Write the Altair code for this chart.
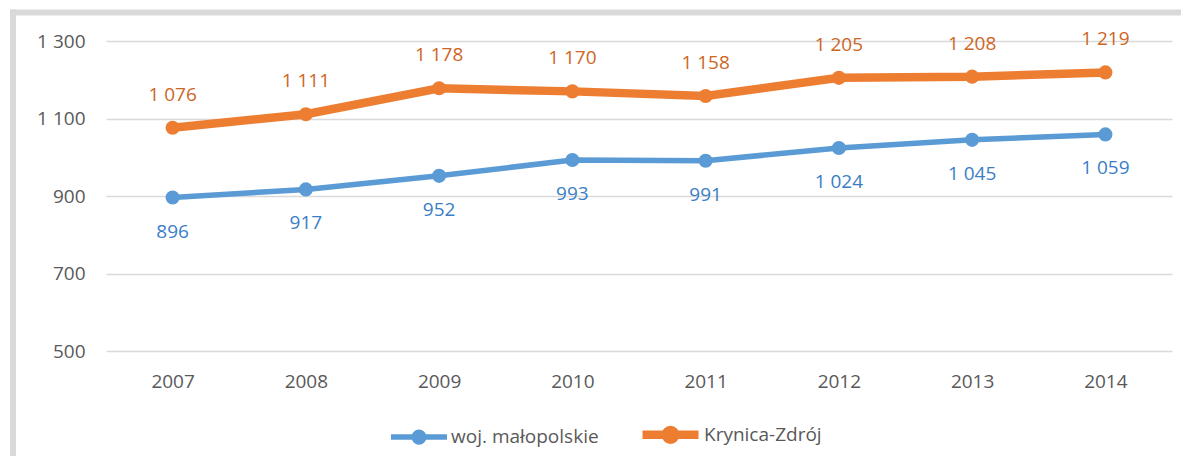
import altair as alt
import pandas as pd

years = ["2007", "2008", "2009", "2010", "2011", "2012", "2013", "2014"]
malopolskie = [896, 917, 952, 993, 991, 1024, 1045, 1059]
krynica = [1076, 1111, 1178, 1170, 1158, 1205, 1208, 1219]
series = ["woj. małopolskie", "Krynica-Zdrój"]
line_colors = ["#5B9BD5", "#ED7D31"]
label_colors = ["#3A7EC6", "#CD6624"]
y_ticks = [500, 700, 900, 1100, 1300]

rows = []
for s, vals in zip(series, [malopolskie, krynica]):
    for yr, v in zip(years, vals):
        rows.append({"year": yr, "value": v, "series": s})
df = pd.DataFrame(rows)

FONT = "Open Sans"
GRAY = "#595959"

x_enc = alt.X(
    "year:O",
    axis=alt.Axis(title=None, labelAngle=0, domain=False, ticks=False, grid=False,
                  labelPadding=21, labelFontSize=19, labelColor=GRAY, labelFont=FONT),
)
y_enc = alt.Y(
    "value:Q",
    scale=alt.Scale(domain=[500, 1300], nice=False, zero=False),
    axis=alt.Axis(title=None, values=y_ticks, domain=False, ticks=False, format=",d",
                  labelPadding=21, labelFontSize=19, labelColor=GRAY, labelFont=FONT,
                  gridColor="#D9D9D9", gridWidth=1.3),
)

legend = alt.Legend(title=None, orient="none", direction="horizontal", legendX=282, legendY=361)

base = alt.Chart(df).encode(x=x_enc, y=y_enc)

lines = base.mark_line().encode(
    stroke=alt.Stroke("series:N", scale=alt.Scale(domain=series, range=line_colors), sort=series, legend=legend),
    strokeWidth=alt.StrokeWidth("series:N", scale=alt.Scale(domain=series, range=[5.5, 8.5]), legend=None),
)
points = base.mark_point(filled=True, opacity=1, strokeOpacity=0, size=200).encode(
    fill=alt.Fill("series:N", scale=alt.Scale(domain=series, range=line_colors), sort=series, legend=legend),
)

text_blue = base.transform_filter(alt.datum.series == series[0]).mark_text(
    dy=34, fontSize=19, font=FONT, color=label_colors[0]
).encode(text=alt.Text("value:Q", format=",d"))
text_orange = base.transform_filter(alt.datum.series == series[1]).mark_text(
    dy=-33, fontSize=19, font=FONT, color=label_colors[1]
).encode(text=alt.Text("value:Q", format=",d"))

frame_df = pd.DataFrame({"a": [0]})
frame_left = alt.Chart(frame_df).mark_rule(color="#D9D9D9", strokeWidth=6).encode(
    x=alt.value(-93), x2=alt.value(-93), y=alt.value(-31.5), y2=alt.value(460)
)
frame_top = alt.Chart(frame_df).mark_rule(color="#D9D9D9", strokeWidth=6).encode(
    x=alt.value(-96), x2=alt.value(1100), y=alt.value(-28.5), y2=alt.value(-28.5)
)

chart = alt.layer(frame_left, frame_top, lines, points, text_blue, text_orange).properties(
    width=1066, height=310,
    autosize=alt.AutoSizeParams(type="none"),
    padding={"left": 98, "top": 33, "right": 9, "bottom": 105},
).configure(
    locale={"number": {"decimal": ",", "thousands": " ", "grouping": [3], "currency": ["", " zł"]}}
).configure_view(stroke=None).configure_legend(
    symbolType="M-1,0H1M0.17,0A0.17,0.17,0,1,1,-0.17,0A0.17,0.17,0,1,1,0.17,0Z",
    symbolSize=3136, symbolStrokeWidth=6, labelFontSize=19, labelFont=FONT,
    labelColor=GRAY, labelOffset=1, columnPadding=26, symbolOpacity=1,
)

chart.save("out.html", embed_options={"renderer": "svg", "actions": False})
